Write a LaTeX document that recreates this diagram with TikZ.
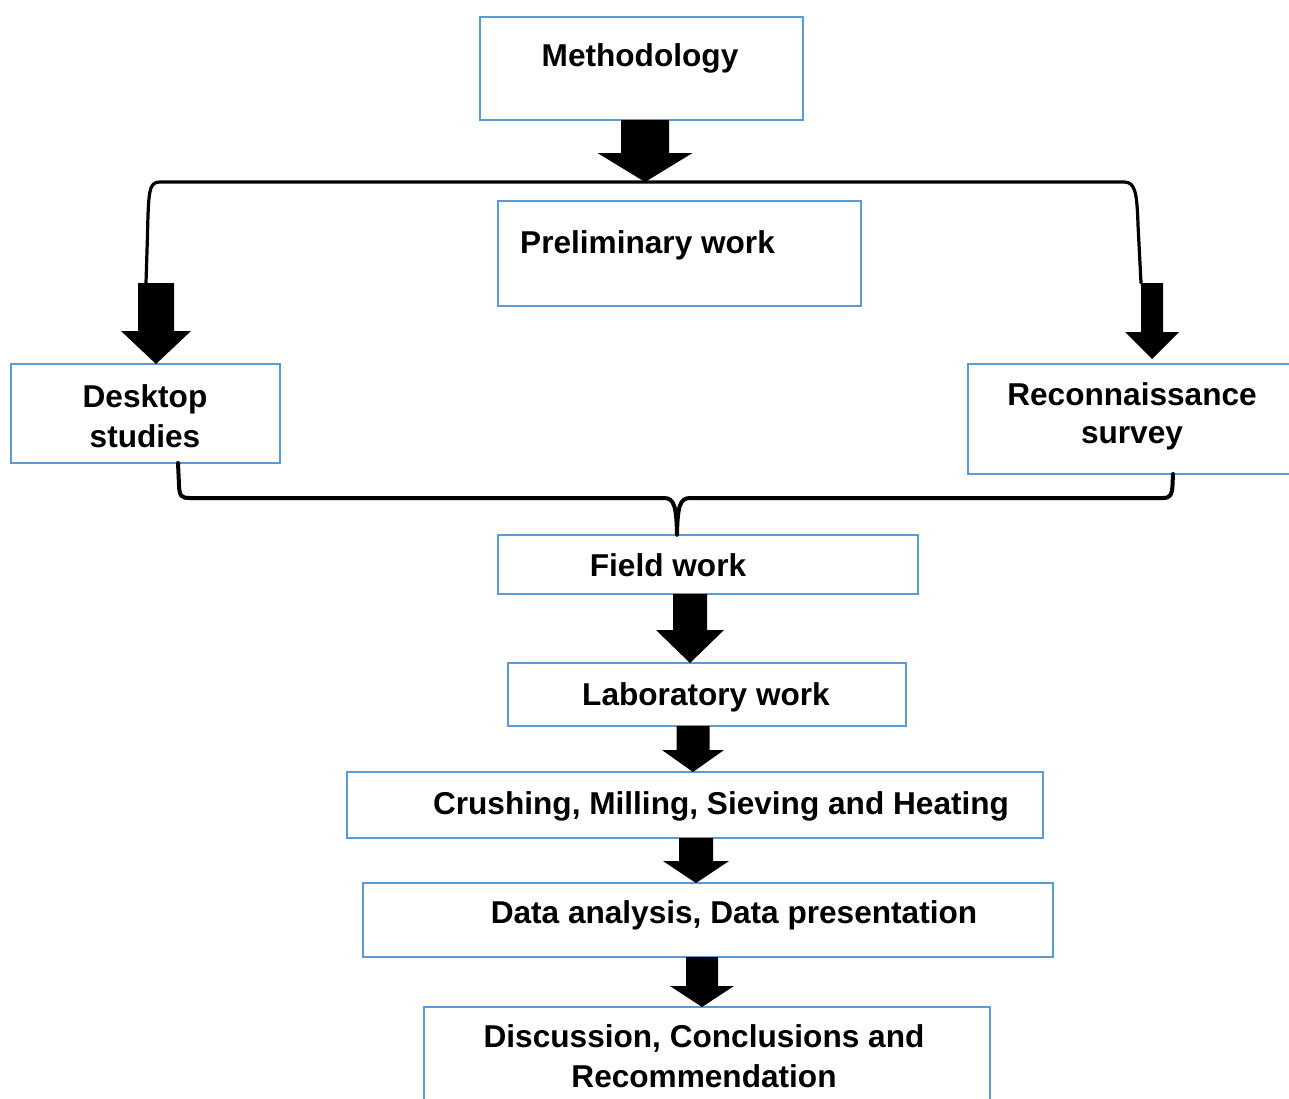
\documentclass[tikz,border=0pt]{standalone}
\usepackage{fontspec}
\setmainfont{Liberation Sans}
\usetikzlibrary{calc}
\definecolor{boxblue}{RGB}{91,155,213}
\tikzset{
  box/.style={draw=boxblue, line width=2pt, inner sep=0pt, outer sep=0pt},
  txt/.style={font=\fontsize{31.6}{38}\selectfont\bfseries, inner sep=0pt, anchor=base},
  brace/.style={draw=black, line width=3.2pt, line join=round, line cap=round},
}
% #1 top point, #2 tip point, #3 x centre, #4 shaft half width, #5 head half width, #6 head length
\newcommand\blockarrow[6]{%
  \fill[black] let \p1=(#1), \p2=(#2) in
    ({(#3-#4)*1pt},\y1) -- ({(#3+#4)*1pt},\y1) -- ({(#3+#4)*1pt},{\y2+#6pt})
    -- ({(#3+#5)*1pt},{\y2+#6pt}) -- ({#3pt},\y2) -- ({(#3-#5)*1pt},{\y2+#6pt})
    -- ({(#3-#4)*1pt},{\y2+#6pt}) -- cycle;}
\begin{document}
\begin{tikzpicture}[x=1pt,y=-1pt]
\useasboundingbox (0,0) rectangle (1289,1098);
\clip (0,0) rectangle (1289,1098);
\fill[white] (0,0) rectangle (1289,1098);

% boxes
\node[box, minimum width=323pt, minimum height=103pt] (m)  at (641.5,68.5) {};
\node[box, minimum width=363pt, minimum height=105pt] (pw) at (679.5,253.5) {};
\node[box, minimum width=269pt, minimum height=99pt]  (ds) at (145.5,413.5) {};
\node[box, minimum width=332pt, minimum height=110pt] (rs) at (1134,419) {};
\node[box, minimum width=420pt, minimum height=59pt]  (fw) at (708,564.5) {};
\node[box, minimum width=398pt, minimum height=63pt]  (lw) at (707,694.5) {};
\node[box, minimum width=696pt, minimum height=66pt]  (cm) at (695,805) {};
\node[box, minimum width=690pt, minimum height=74pt]  (da) at (708,920) {};
\node[box, minimum width=566pt, minimum height=103pt] (dc) at (707,1058.5) {};

% texts
\node[txt] (tm) at (640,66) {Methodology};
\node[txt, anchor=base west] (tpw) at (520,253) {Preliminary work};
\node[txt] (tds1) at (145,407) {Desktop};
\node[txt] (tds2) at (145,447) {studies};
\node[txt] (trs1) at (1132,405) {Reconnaissance};
\node[txt] (trs2) at (1132,443) {survey};
\node[txt] (tfw) at (668,576) {Field work};
\node[txt] (tlw) at (706,705) {Laboratory work};
\node[txt] (tcm) at (721,814) {Crushing, Milling, Sieving and Heating};
\node[txt] (tda) at (734,923) {Data analysis, Data presentation};
\node[txt] (tdc1) at (704,1047) {Discussion, Conclusions and};
\node[txt] (tdc2) at (704,1087) {Recommendation};

% brace points
\coordinate (bt) at (645,182);
\coordinate (bl) at (146,283);
\coordinate (br) at (1141,283);
\coordinate (dsb) at (178,463);
\coordinate (rsb) at (1173,474);
\coordinate (fwt) at (677,535);
\coordinate (rstip) at (1152,359);

% top brace
\draw[brace] (bl) -- (147.5,235) .. controls (148.5,190) and (149,182) .. (160,182)
  -- (bt) -- (1124,182) .. controls (1135,182) and (1137,192) .. (1138,225) -- (br);
% bottom brace
\draw[brace, line width=4pt] (dsb) -- (179,485) .. controls (179.5,496) and (181,498) .. (190,498)
  -- (664,498) .. controls (674,498) and (676.5,506) .. (fwt)
  .. controls (677.5,506) and (680,498) .. (690,498)
  -- (1163,498) .. controls (1171,498) and (1172,494) .. (1172.5,485) -- (rsb);

% block arrows
\blockarrow{m.south}{bt}{645}{24}{47.5}{29}
\blockarrow{bl}{ds.north}{156}{18}{35}{33}
\blockarrow{br}{rstip}{1152}{11}{27}{27}
\blockarrow{fw.south}{lw.north}{690}{17}{34}{33}
\blockarrow{lw.south}{cm.north}{693}{16.5}{31}{22}
\blockarrow{cm.south}{da.north}{696}{17}{33}{22}
\blockarrow{da.south}{dc.north}{702}{16}{32}{21}
\end{tikzpicture}
\end{document}
